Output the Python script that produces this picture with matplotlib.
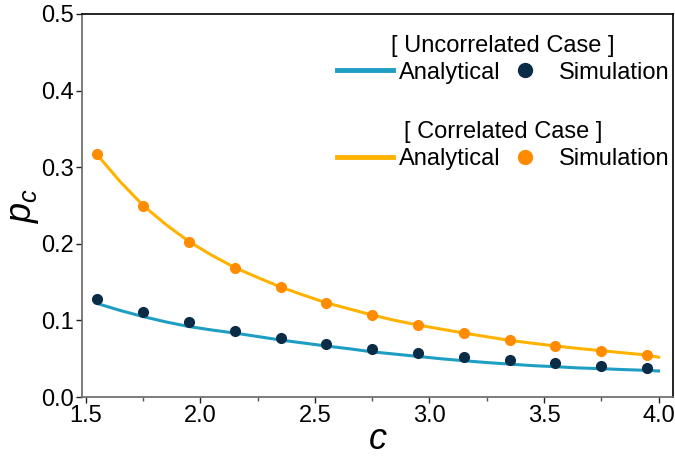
import matplotlib
matplotlib.use("Agg")
import matplotlib.pyplot as plt
from matplotlib.ticker import MultipleLocator
from matplotlib.lines import Line2D

plt.rcParams['font.family'] = ['Liberation Sans', 'DejaVu Sans']
plt.rcParams['mathtext.fontset'] = 'custom'
plt.rcParams['mathtext.it'] = 'Liberation Sans:italic'
plt.rcParams['mathtext.rm'] = 'Liberation Sans'

# Simulation points
c_sim = [1.55, 1.75, 1.95, 2.15, 2.35, 2.55, 2.75, 2.95, 3.15, 3.35, 3.55, 3.75, 3.95]
uncorr_sim = [0.1275, 0.111, 0.0975, 0.0866, 0.077, 0.0696, 0.0627, 0.057, 0.052, 0.0483, 0.044, 0.0405, 0.0379]
corr_sim = [0.317, 0.250, 0.203, 0.169, 0.1436, 0.123, 0.107, 0.094, 0.0836, 0.074, 0.0666, 0.0605, 0.0548]

# Analytical curves
c_an = [1.55, 1.65, 1.75, 1.85, 1.95, 2.05, 2.15, 2.25, 2.35, 2.45, 2.55, 2.65, 2.75,
        2.85, 2.95, 3.05, 3.15, 3.25, 3.35, 3.45, 3.55, 3.65, 3.75, 3.85, 3.95, 4.0]
uncorr_an = [0.122, 0.113, 0.105, 0.098, 0.092, 0.0875, 0.0835, 0.079, 0.0744, 0.0705, 0.0666, 0.063, 0.059,
             0.056, 0.053, 0.050, 0.0474, 0.045, 0.043, 0.041, 0.0396, 0.038, 0.037, 0.0358, 0.0348, 0.034]
corr_an = [0.316, 0.281, 0.250, 0.225, 0.203, 0.185, 0.169, 0.156, 0.1436, 0.133, 0.123, 0.115, 0.107,
           0.100, 0.094, 0.0887, 0.0836, 0.0787, 0.074, 0.0702, 0.0666, 0.0634, 0.0605, 0.0576, 0.0548, 0.052]

blue_line = '#1E9EC3'
blue_pt = '#0A2C47'
orange_line = '#FFB300'
orange_pt = '#FF8C00'

fig = plt.figure(figsize=(6.75, 4.59), dpi=100)
ax = fig.add_axes([0.1215, 0.135, 0.8755, 0.8345])

ax.plot(c_an, uncorr_an, color=blue_line, lw=2.2)
ax.plot(c_sim, uncorr_sim, 'o', color=blue_pt, ms=7, ls='none')
ax.plot(c_an, corr_an, color=orange_line, lw=2.2)
ax.plot(c_sim, corr_sim, 'o', color=orange_pt, ms=7, ls='none')

ax.set_xlim(1.483, 4.063)
ax.set_ylim(0, 0.5)
ax.xaxis.set_major_locator(MultipleLocator(0.5))
ax.xaxis.set_minor_locator(MultipleLocator(0.25))
ax.yaxis.set_major_locator(MultipleLocator(0.1))
ax.tick_params(axis='both', which='major', labelsize=17, length=4, width=1,
               colors='#222222', labelcolor='black', pad=2)
ax.tick_params(axis='x', which='minor', length=3, width=1, colors='#555555')

for side in ['left', 'bottom']:
    ax.spines[side].set_color('#666666')
for side in ['top', 'right']:
    ax.spines[side].set_color('black')
for s in ax.spines.values():
    s.set_linewidth(1.2)

ax.set_xlabel('$c$', fontsize=26, labelpad=-4)
ax.set_ylabel('$p_c$', fontsize=26, labelpad=0)

h1 = Line2D([], [], color=blue_line, lw=3.5)
h1s = Line2D([], [], color=blue_pt, marker='o', ls='none', ms=10)
h2 = Line2D([], [], color=orange_line, lw=3.5)
h2s = Line2D([], [], color=orange_pt, marker='o', ls='none', ms=10)

common = dict(ncol=2, frameon=False, fontsize=17, title_fontsize=17, loc='upper right',
              handlelength=2.4, handletextpad=0.25, columnspacing=-0.2, borderpad=0,
              labelspacing=0.2)
leg1 = ax.legend([h1, h1s], ['Analytical', 'Simulation'], title='[ Uncorrelated Case ]',
                 bbox_to_anchor=(1.014, 0.976), **common)
ax.add_artist(leg1)
leg2 = ax.legend([h2, h2s], ['Analytical', 'Simulation'], title='[ Correlated Case ]',
                 bbox_to_anchor=(1.014, 0.751), **common)

fig.savefig('out.png', dpi=100)
